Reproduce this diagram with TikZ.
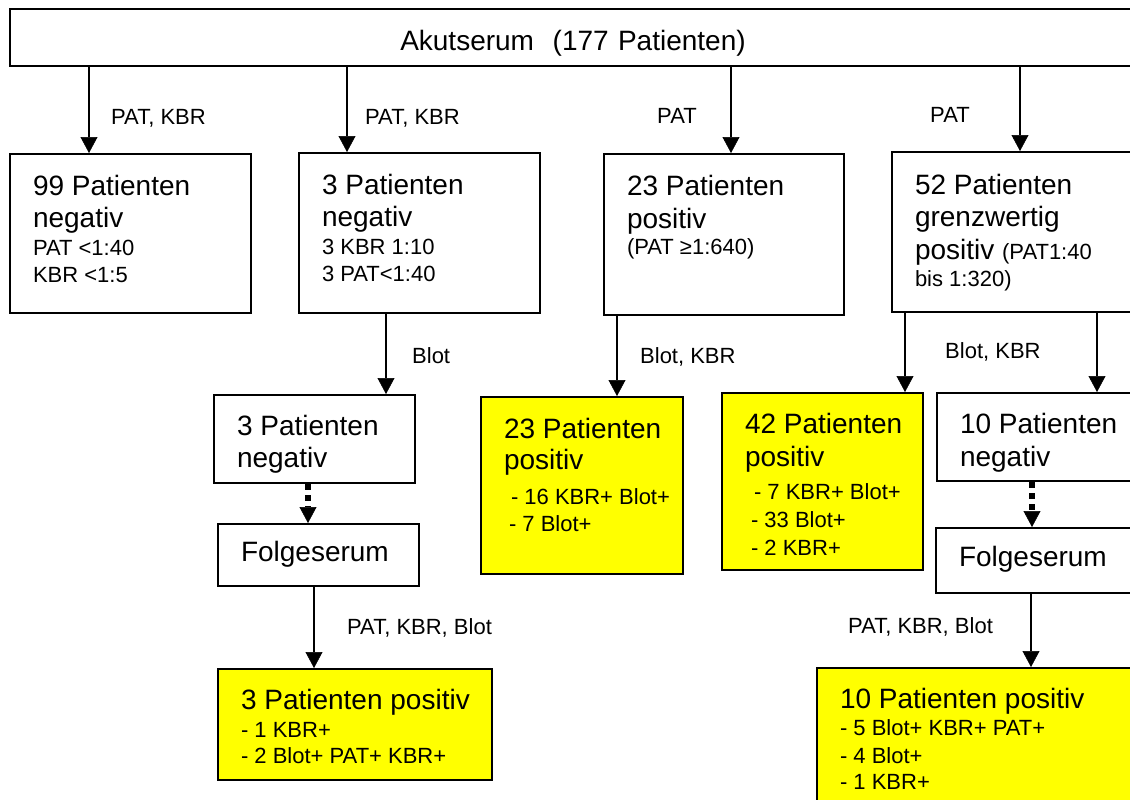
\documentclass[tikz,border=0pt]{standalone}
\usepackage{fontspec}
\setmainfont{Liberation Sans}
\usetikzlibrary{arrows.meta,positioning}

\definecolor{hit}{RGB}{255,255,0}
\newcommand{\bigfont}{\fontsize{28}{27}\selectfont}
\newcommand{\smallfont}{\fontsize{22}{27}\selectfont}

\begin{document}
\begin{tikzpicture}[x=1pt,y=-1pt,
    frame/.style={draw, line width=2pt, anchor=north west, inner sep=0pt, font=\bigfont},
    box/.style={frame, align=left, execute at begin node={\leftskip=23pt\spaceskip=0pt\xspaceskip=0pt\relax}},
    hitbox/.style={box, fill=hit},
    link/.style={-{Triangle[length=16pt,width=17pt,line width=0.5pt]}, line width=2pt},
    dotlink/.style={link, line width=6pt, dash pattern=on 6pt off 5pt},
    lbl/.style={anchor=base west, inner sep=0pt, font=\smallfont}]
    \useasboundingbox (0,0) rectangle (1130,800);

    % Akutserum
    \node[frame, align=center, text width=1126pt, text height=42pt, text depth=15pt] (akut) at (9,8) {Akutserum\ \ (177 Patienten)};

    % first row
    \node[box, text width=241pt, text height=41pt, text depth=118pt] (neg99) at (9,153)
        {99 Patienten\\[5pt]negativ\\[1pt]\smallfont PAT <1:40\\KBR <1:5};
    \node[box, text width=241pt, text height=41pt, text depth=119pt] (neg3) at (298,152)
        {3 Patienten\\[5pt]negativ\\[1pt]\smallfont 3 KBR 1:10\\3 PAT<1:40};
    \node[box, text width=240pt, text height=41pt, text depth=120pt] (pos23) at (603,153)
        {23 Patienten\\[6pt]positiv\\[-1pt]\smallfont (PAT ≥1:640)};
    \node[box, text width=244pt, text height=42pt, text depth=118pt] (grenz) at (891,151)
        {52 Patienten\\[5pt]grenzwertig\\[6pt]positiv {\smallfont (PAT1:40}\\\smallfont bis 1:320)};

    % second row
    \node[box, text width=201pt, text height=40pt, text depth=48pt] (neg3b) at (213,394)
        {3 Patienten\\[5pt]negativ};
    \node[hitbox, text width=202pt, text height=41pt, text depth=136pt] (pos23b) at (480,396)
        {23 Patienten\\[4pt]positiv\\[8pt]\smallfont\hspace*{7pt}- 16 KBR+ Blot+\\\hspace*{5pt}- 7 Blot+};
    \node[hitbox, text width=201pt, text height=40pt, text depth=137pt] (pos42) at (721,392)
        {42 Patienten\\[6pt]positiv\\[6pt]\smallfont\hspace*{9pt}- 7 KBR+ Blot+\\[1pt]\hspace*{6pt}- 33 Blot+\\[1pt]\hspace*{6pt}- 2 KBR+};
    \node[box, text width=199pt, text height=40pt, text depth=48pt] (neg10) at (936,392)
        {10 Patienten\\[6pt]negativ};

    % Folgeserum
    \node[box, text width=201pt, text height=37pt, text depth=25pt] (folge1) at (217,523) {Folgeserum};
    \node[box, text width=200pt, text height=38pt, text depth=27pt] (folge2) at (935,527) {Folgeserum};

    % results
    \node[hitbox, text width=274pt, text height=40pt, text depth=71pt] (pos3) at (217,668)
        {3 Patienten positiv\\[1pt]\smallfont - 1 KBR+\\[-1pt]- 2 Blot+ PAT+ KBR+};
    \node[hitbox, text width=319pt, text height=40pt, text depth=113pt] (pos10) at (816,667)
        {10 Patienten positiv\\\smallfont - 5 Blot+ KBR+ PAT+\\[1pt]- 4 Blot+\\[-1pt]- 1 KBR+};

    % arrow ends
    \coordinate (in1) at ([xshift=80pt]neg99.north west);
    \coordinate (in2) at ([xshift=49pt]neg3.north west);
    \coordinate (in3) at ([xshift=128pt]pos23.north west);
    \coordinate (in4) at ([xshift=129pt]grenz.north west);
    \coordinate (in5) at ([xshift=173pt]neg3b.north west);
    \coordinate (in6) at ([xshift=137pt]pos23b.north west);
    \coordinate (in7) at ([xshift=184pt]pos42.north west);
    \coordinate (in8) at ([xshift=161pt]neg10.north west);
    \coordinate (in9) at ([xshift=91pt]folge1.north west);
    \coordinate (in10) at ([xshift=97pt]folge2.north west);
    \coordinate (in11) at ([xshift=97pt]pos3.north west);
    \coordinate (in12) at ([xshift=215pt]pos10.north west);

    % arrows
    \draw[link] (in1 |- akut.south) -- (in1);
    \draw[link] (in2 |- akut.south) -- (in2);
    \draw[link] (in3 |- akut.south) -- (in3);
    \draw[link] (in4 |- akut.south) -- (in4);
    \draw[link] (in5 |- neg3.south) -- (in5);
    \draw[link] (in6 |- pos23.south) -- (in6);
    \draw[link] (in7 |- grenz.south) -- (in7);
    \draw[link] (in8 |- grenz.south) -- (in8);
    \draw[dotlink] (in9 |- neg3b.south) -- (in9);
    \draw[dotlink] (in10 |- neg10.south) -- (in10);
    \draw[link] (in11 |- folge1.south) -- (in11);
    \draw[link] (in12 |- folge2.south) -- (in12);

    % labels
    \node[lbl] (lab1) at (111,124) {PAT, KBR};
    \node[lbl] (lab2) at (365,124) {PAT, KBR};
    \node[lbl] (lab3) at (657,123) {PAT};
    \node[lbl] (lab4) at (930,122) {PAT};
    \node[lbl] (lab5) at (412,363) {Blot};
    \node[lbl] (lab6) at (640,363) {Blot, KBR};
    \node[lbl] (lab7) at (945,358) {Blot, KBR};
    \node[lbl] (lab8) at (347,634) {PAT, KBR, Blot};
    \node[lbl] (lab9) at (848,633) {PAT, KBR, Blot};
\end{tikzpicture}
\end{document}
